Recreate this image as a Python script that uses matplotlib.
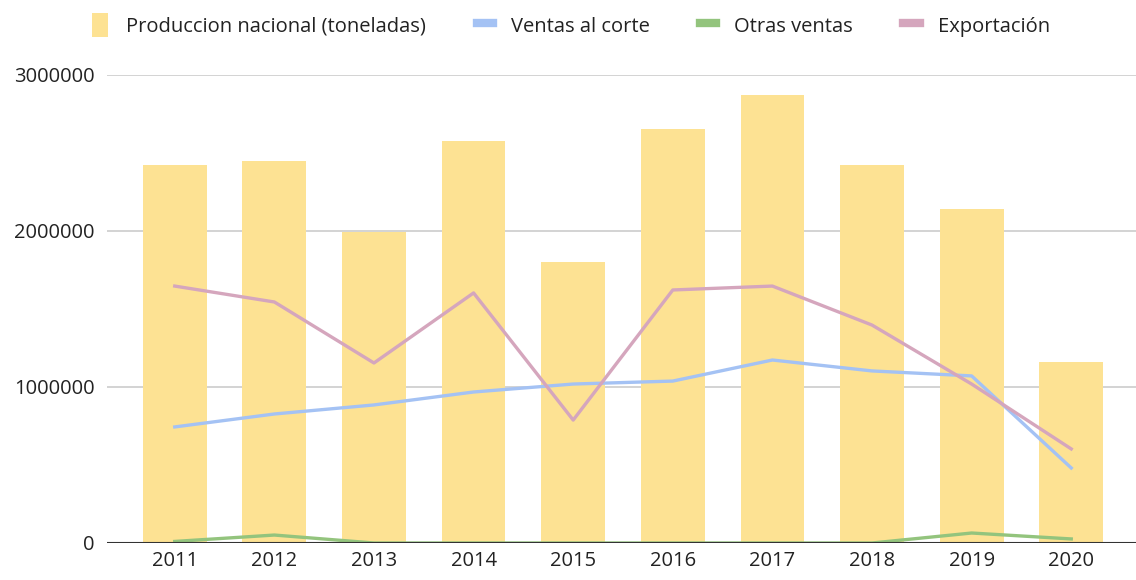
import matplotlib.pyplot as plt
from matplotlib.patches import Patch
from matplotlib.lines import Line2D

years = ["2011", "2012", "2013", "2014", "2015", "2016", "2017", "2018", "2019", "2020"]
produccion = [2423000, 2449000, 1994000, 2577000, 1801000, 2654000, 2872000, 2423000, 2141000, 1160000]
ventas_corte = [744000, 827000, 885000, 968000, 1019000, 1038000, 1173000, 1103000, 1071000, 481000]
otras_ventas = [10000, 51000, 0, 0, 0, 0, 0, 0, 64000, 26000]
exportacion = [1647000, 1545000, 1154000, 1603000, 788000, 1622000, 1647000, 1397000, 1019000, 603000]

YELLOW = "#FDE293"
BLUE = "#A4C2F4"
GREEN = "#93C47D"
PINK = "#D5A6BD"

plt.rcParams["font.family"] = ["Open Sans", "DejaVu Sans"]

fig = plt.figure(figsize=(11.36, 5.8), dpi=100)
ax = fig.add_axes([107 / 1136, 1 - 543 / 580, 1 - 107 / 1136, (543 - 75) / 580])

x = list(range(len(years)))
ax.bar(x, produccion, width=0.64, color=YELLOW, zorder=2)
ax.plot(x, ventas_corte, color=BLUE, lw=2.4, zorder=3)
ax.plot(x, otras_ventas, color=GREEN, lw=2.4, zorder=3)
ax.plot(x, exportacion, color=PINK, lw=2.4, zorder=3)

ax.set_xlim(-0.68, 9.65)
ax.set_ylim(0, 3000000)
ax.set_yticks([0, 1000000, 2000000, 3000000])
ax.set_yticklabels(["0", "1000000", "2000000", "3000000"])
ax.set_xticks(x)
ax.set_xticklabels(years)
ax.grid(axis="y", color="#cccccc", lw=1.2, zorder=0)
ax.axhline(0, color="#333333", lw=1.5, zorder=4)
for s in ax.spines.values():
    s.set_visible(False)
ax.tick_params(length=0, labelsize=14.5, colors="#222222")
ax.tick_params(axis="y", pad=9)
ax.tick_params(axis="x", pad=6)

handles = [
    Patch(facecolor=YELLOW, edgecolor="none"),
    Line2D([], [], color=BLUE, lw=6),
    Line2D([], [], color=GREEN, lw=6),
    Line2D([], [], color=PINK, lw=6),
]
labels = ["Produccion nacional (toneladas)", "Ventas al corte", "Otras ventas", "Exportación"]
fig.legend(handles, labels, loc="center", bbox_to_anchor=(571 / 1136, 1 - 25 / 580),
           ncol=4, frameon=False, fontsize=14.5, handlelength=0.8, handleheight=1.4,
           columnspacing=2.5, handletextpad=0.9, labelcolor="#222222")

fig.savefig("out.png", dpi=100)
